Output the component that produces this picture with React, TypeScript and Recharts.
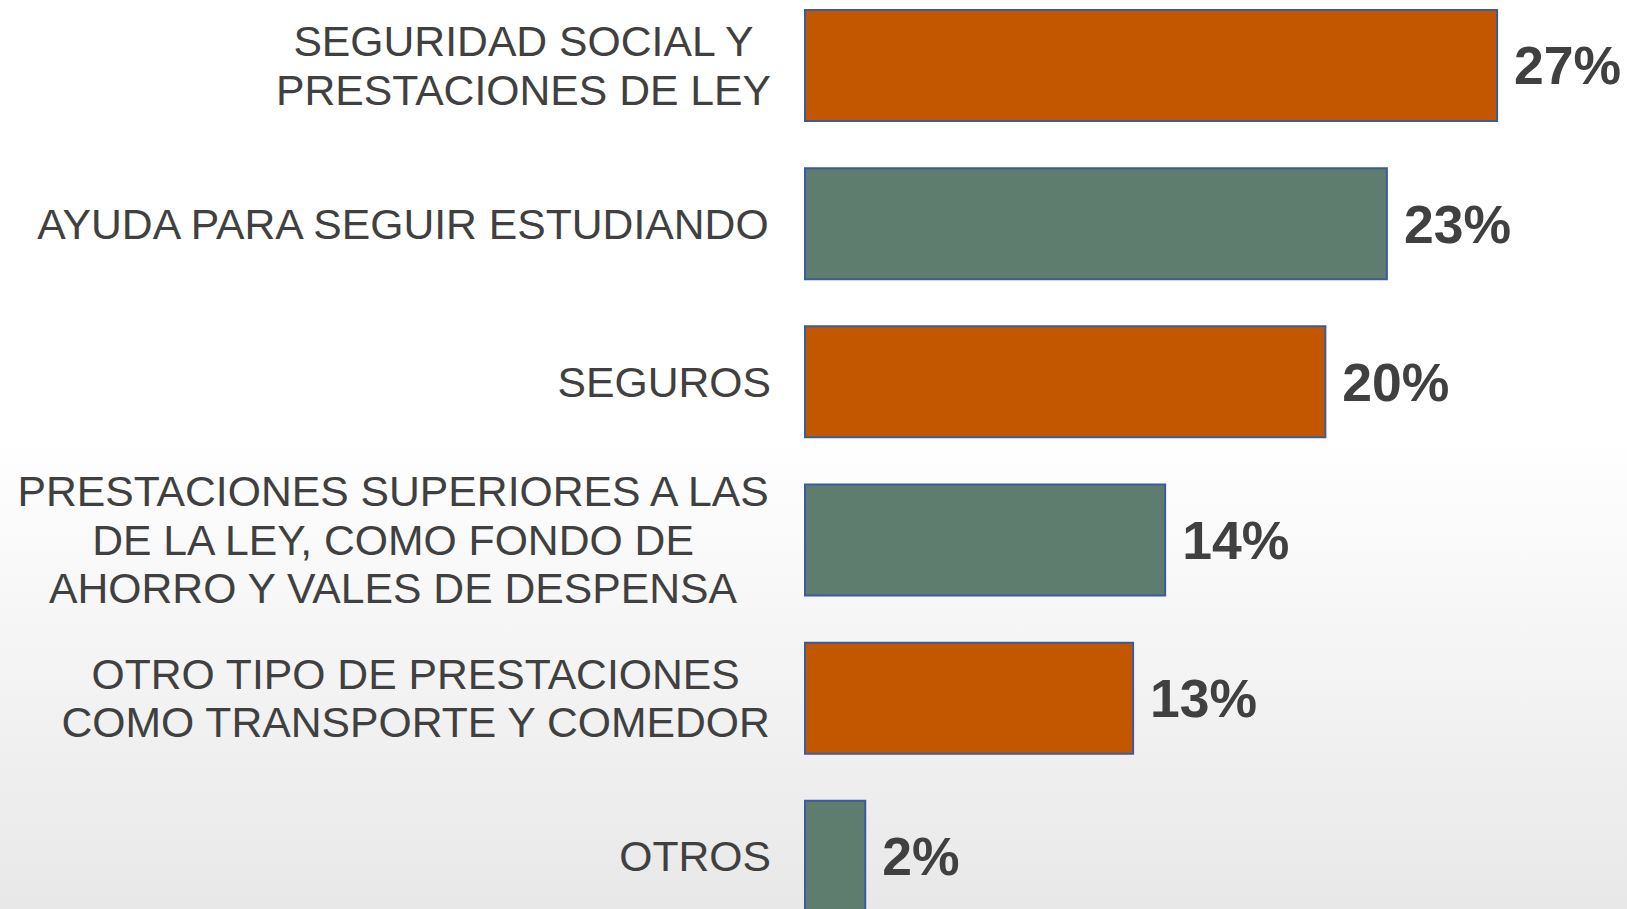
// Prestaciones: barras horizontales con etiquetas centradas a la izquierda.
import { Bar, BarChart, Cell, LabelList, XAxis, YAxis } from "recharts";

const categories = [
  "SEGURIDAD SOCIAL Y\nPRESTACIONES DE LEY",
  "AYUDA PARA SEGUIR ESTUDIANDO",
  "SEGUROS",
  "PRESTACIONES SUPERIORES A LAS\nDE LA LEY, COMO FONDO DE\nAHORRO Y VALES DE DESPENSA",
  "OTRO TIPO DE PRESTACIONES\nCOMO TRANSPORTE Y COMEDOR",
  "OTROS",
];
const shares = [27.0, 22.7, 20.3, 14.05, 12.8, 2.35];

const ORANGE = "#c25700";
const GREEN = "#5e7d6f";
const BAR_COLORS = [ORANGE, GREEN];
const FONT = "'Liberation Sans', Arial, sans-serif";
const LABEL_SIZE = 42.7;
const LINE_HEIGHT = 48.5;
const LABEL_RIGHT = 771;

const data = categories.map((name, i) => ({ name, value: shares[i] }));

let ctx: CanvasRenderingContext2D | null = null;
function textWidth(s: string): number {
  if (!ctx) {
    ctx = document.createElement("canvas").getContext("2d");
    if (ctx) ctx.font = `${LABEL_SIZE}px ${FONT}`;
  }
  return ctx ? ctx.measureText(s).width : s.length * LABEL_SIZE * 0.6;
}

function CategoryTick(props: any) {
  const { y, payload } = props;
  const lines = String(payload.value).split("\n");
  const widest = Math.max(...lines.map(textWidth));
  const cx = LABEL_RIGHT - widest / 2;
  return (
    <text fill="#404040" fontSize={LABEL_SIZE} fontFamily={FONT} textAnchor="middle">
      {lines.map((line, i) => (
        <tspan key={i} x={cx} y={y + (i - (lines.length - 1) / 2) * LINE_HEIGHT} dy="0.36em">
          {line}
        </tspan>
      ))}
    </text>
  );
}

export default function App() {
  return (
    <div
      style={{
        position: "fixed",
        inset: 0,
        overflow: "hidden",
        background: "linear-gradient(#ffffff 0%, #ffffff 48%, #e8e8e8 100%)",
      }}
    >
      <div style={{ position: "absolute", left: 0, top: -14 }}>
        <BarChart
          width={1627}
          height={949}
          data={data}
          layout="vertical"
          margin={{ top: 0, right: 53, bottom: 0, left: 0 }}
        >
          <XAxis type="number" domain={[0, 30]} hide />
          <YAxis
            type="category"
            dataKey="name"
            width={805}
            tickLine={false}
            axisLine={false}
            tick={<CategoryTick />}
            interval={0}
          />
          <Bar dataKey="value" barSize={111} stroke="#3a5b9c" strokeWidth={2} isAnimationActive={false}>
            {data.map((_, i) => (
              <Cell key={i} fill={BAR_COLORS[i % 2]} />
            ))}
            <LabelList
              dataKey="value"
              position="right"
              offset={17}
              formatter={(v: any) => `${Math.round(Number(v))}%`}
              fill="#404040"
              fontSize={53.5}
              fontWeight="bold"
              fontFamily={FONT}
            />
          </Bar>
        </BarChart>
      </div>
    </div>
  );
}
